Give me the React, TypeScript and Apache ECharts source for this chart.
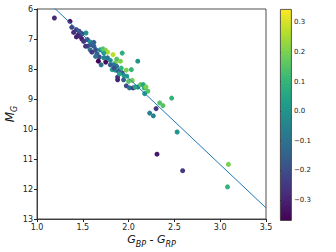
import React, { useEffect, useRef } from "react";
import * as echarts from "echarts";

const bpRp = [
  1.19, 1.36, 1.38, 1.40, 1.43, 1.535, 1.45, 1.47, 1.49, 1.51, 1.46, 1.49, 1.55, 1.58, 1.59,
  1.55, 1.62, 1.58, 1.64, 1.60, 1.655, 1.69, 1.72, 1.75, 1.77, 1.73, 1.68, 1.67, 1.70, 1.75,
  1.73, 1.77, 1.80, 1.83, 1.88, 1.855, 1.93, 2.10, 1.84, 1.82, 1.855, 1.87, 1.89, 1.92, 1.975,
  2.03, 1.93, 1.95, 1.88, 1.88, 1.945, 1.98, 2.0, 2.04, 1.975, 2.01, 2.05, 2.10, 2.13, 2.16,
  2.17, 2.19, 2.21, 2.175, 2.47, 2.34, 2.375, 2.30, 2.23, 2.27, 2.53, 2.31, 2.59, 3.09, 3.08,
  1.84, 1.90, 1.80, 1.64, 1.53, 1.43, 1.62, 1.87, 1.91, 2.07,
];
const mG = [
  6.30, 6.41, 6.61, 6.78, 6.69, 6.80, 6.86, 6.91, 7.0, 7.08, 6.74, 6.82, 7.02, 7.10, 7.19,
  7.24, 7.24, 7.36, 7.36, 7.44, 7.49, 7.36, 7.33, 7.38, 7.44, 7.47, 7.60, 7.74, 7.86, 7.77,
  7.63, 7.63, 7.71, 7.52, 7.71, 7.80, 7.47, 7.74, 7.86, 8.02, 8.04, 7.91, 8.08, 7.97, 8.04,
  8.02, 8.13, 8.22, 8.27, 8.36, 8.36, 8.24, 8.41, 8.38, 8.56, 8.63, 8.63, 8.60, 8.52, 8.52,
  8.63, 8.60, 8.74, 8.82, 8.97, 9.13, 9.22, 9.32, 9.47, 9.56, 10.10, 10.84, 11.39, 11.18, 11.93,
  7.97, 8.16, 7.86, 7.58, 7.24, 6.93, 7.11, 7.67, 7.74, 8.60,
];
const feh = [
  -0.28, -0.33, -0.22, -0.28, -0.25, 0.0, -0.3, -0.28, -0.3, -0.25, -0.2, -0.22, -0.2, 0.0, -0.15,
  -0.22, -0.18, -0.1, -0.2, -0.25, -0.15, 0.0, 0.15, 0.2, 0.25, 0.05, -0.2, -0.37, -0.1, -0.35,
  -0.05, -0.1, 0.0, 0.27, 0.35, 0.2, 0.08, 0.0, -0.05, 0.05, 0.0, -0.1, -0.15, 0.1, 0.2,
  0.1, -0.2, 0.0, -0.25, -0.3, -0.15, 0.05, 0.15, 0.2, -0.2, -0.1, -0.25, -0.05, 0.15, 0.05,
  0.1, 0.2, 0.15, 0.0, 0.1, 0.15, 0.15, -0.25, -0.05, -0.05, 0.0, -0.32, -0.25, 0.2, 0.1,
  -0.2, 0.05, -0.15, -0.1, -0.25, -0.3, -0.15, 0.15, 0.2, 0.05,
];
const fitX = [1.0, 3.5];
const fitY = [5.42, 12.63];
const colorTicks = [-0.3, -0.2, -0.1, 0.0, 0.1, 0.2, 0.3];
const cMin = -0.368;
const cMax = 0.345;

const viridis = ["#440154", "#482878", "#3e4989", "#31688e", "#26828e", "#1f9e89", "#35b779", "#6ece58", "#b5de2b", "#fde725"];

export default function App() {
  const ref = useRef<HTMLDivElement>(null);
  useEffect(() => {
    const chart = echarts.init(ref.current!, null, { renderer: "svg" });
    const font = "DejaVu Sans";
    const stops = viridis
      .map((c, i) => ({ offset: 1 - i / (viridis.length - 1), color: c }))
      .reverse();
    chart.setOption({
      animation: false,
      textStyle: { fontFamily: font },
      grid: [
        { left: 37, right: 70, top: 9, bottom: 33, show: true, borderColor: "#222", borderWidth: 0.8, backgroundColor: "transparent", outerBoundsMode: "none", containLabel: false },
        { left: 280, width: 11, top: 9, bottom: 32, outerBoundsMode: "none", containLabel: false },
      ],
      xAxis: [
        {
          type: "value", gridIndex: 0, min: 1, max: 3.5, interval: 0.5,
          axisLine: { lineStyle: { color: "#222", width: 0.8 } },
          axisTick: { inside: false, length: 3, lineStyle: { color: "#222" } },
          splitLine: { show: false },
          axisLabel: { fontSize: 8, color: "#222", margin: 4, formatter: (v: number) => v.toFixed(1) },
          name: "{a|G}{s|BP}{a| - G}{s|RP}",
          nameLocation: "middle", nameGap: 15, nameMoveOverlap: false,
          nameTextStyle: {
            rich: {
              a: { fontSize: 11, fontStyle: "italic", fontFamily: font, color: "#111", verticalAlign: "top", lineHeight: 14 },
              s: { fontSize: 8, fontStyle: "italic", fontFamily: font, color: "#111", verticalAlign: "bottom", lineHeight: 14, padding: [6, 0, 0, 0] },
            },
          },
        },
        { type: "value", gridIndex: 1, min: 0, max: 1, show: false },
      ],
      yAxis: [
        {
          type: "value", gridIndex: 0, min: 6, max: 13, interval: 1, inverse: true,
          axisLine: { lineStyle: { color: "#222", width: 0.8 } },
          axisTick: { inside: false, length: 3, lineStyle: { color: "#222" } },
          splitLine: { show: false },
          axisLabel: { fontSize: 8, color: "#222", margin: 4 },
          name: "{a|M}{s|G}",
          nameLocation: "middle", nameGap: 19, nameRotate: 90, nameMoveOverlap: false,
          nameTextStyle: {
            rich: {
              a: { fontSize: 12, fontStyle: "italic", fontFamily: font, color: "#111", verticalAlign: "top", lineHeight: 14 },
              s: { fontSize: 8, fontStyle: "italic", fontFamily: font, color: "#111", verticalAlign: "bottom", lineHeight: 14, padding: [6, 0, 0, 0] },
            },
          },
        },
        {
          type: "value", gridIndex: 1, min: cMin, max: cMax, position: "right",
          axisLine: { show: false },
          axisTick: { show: true, length: 3, lineStyle: { color: "#222" }, customValues: colorTicks },
          splitLine: { show: false },
          axisLabel: {
            fontSize: 7, color: "#222", margin: 3, customValues: colorTicks,
            formatter: (v: number) => v.toFixed(1).replace("-", "\u2212"),
          },
        },
      ],
      visualMap: {
        show: false, type: "continuous", min: cMin, max: cMax, dimension: 2, seriesIndex: 0,
        inRange: { color: viridis },
      },
      graphic: [
        {
          type: "rect", left: 280, top: 9, z: 10,
          shape: { width: 11, height: 211 },
          style: { fill: new echarts.graphic.LinearGradient(0, 0, 0, 1, stops), stroke: "#333", lineWidth: 0.8 },
        },
      ],
      series: [
        {
          type: "scatter", xAxisIndex: 0, yAxisIndex: 0, symbolSize: 5,
          data: bpRp.map((x, i) => [x, mG[i], feh[i]]),
          itemStyle: { opacity: 1 },
          z: 2,
        },
        {
          type: "line", xAxisIndex: 0, yAxisIndex: 0, showSymbol: false, clip: true,
          data: fitX.map((x, i) => [x, fitY[i]]),
          lineStyle: { color: "#1f77b4", width: 1 },
          z: 3,
        },
      ],
    });
    return () => chart.dispose();
  }, []);
  return <div ref={ref} style={{ width: 336, height: 252, position: "absolute", left: 0, top: 0 }} />;
}
